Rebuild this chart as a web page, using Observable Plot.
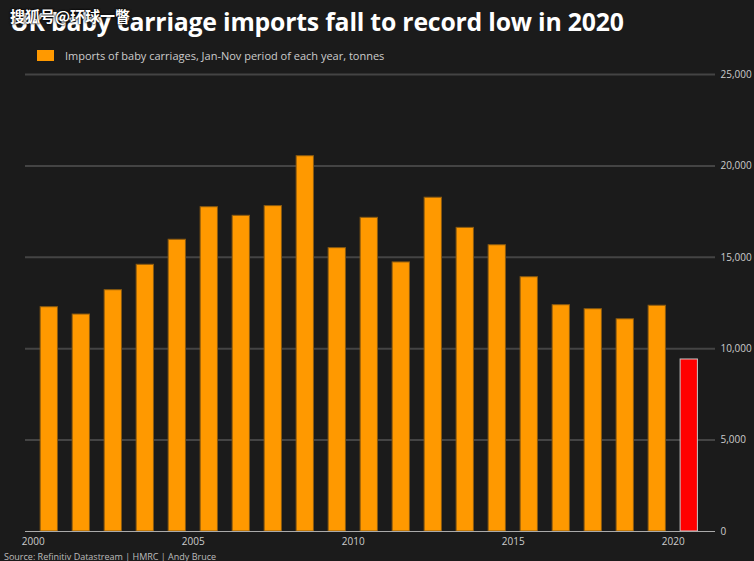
<!DOCTYPE html>
<html><head><meta charset="utf-8">
<script src="https://cdn.jsdelivr.net/npm/d3@7"></script>
<script src="https://cdn.jsdelivr.net/npm/@observablehq/plot@0.6"></script>
<style>
html,body{margin:0;padding:0;background:#1b1b1b;}
#wrap{position:relative;width:754px;height:561px;overflow:hidden;background:#1b1b1b;font-family:"Open Sans",sans-serif;}
#title{position:absolute;left:10px;top:4px;color:#fff;font-weight:700;font-size:24.8px;white-space:nowrap;letter-spacing:-0.2px;}
#wm{position:absolute;left:10px;top:5px;color:#fff;font-family:"Noto Sans CJK SC",sans-serif;font-size:15px;font-weight:700;text-shadow:0 0 2px #000,0 0 2px #000;white-space:nowrap;}
#legend{position:absolute;left:37px;top:48px;color:#ccc;font-size:11px;display:flex;align-items:center;white-space:nowrap;}
#legend .sw{width:17px;height:11px;background:#ff9900;margin-right:11px;}
#chart{position:absolute;left:0;top:64px;}
#source{position:absolute;left:4px;top:550px;color:#bbb;font-size:9px;white-space:nowrap;}
</style></head>
<body>
<div id="wrap">
  <div id="title">UK baby carriage imports fall to record low in 2020</div>
  <div id="wm">搜狐号@环球一瞥</div>
  <div id="legend"><div class="sw"></div><span>Imports of baby carriages, Jan-Nov period of each year, tonnes</span></div>
  <div id="chart"></div>
  <div id="source">Source: Refinitiv Datastream | HMRC | Andy Bruce</div>
</div>
<script>
const years = [2000,2001,2002,2003,2004,2005,2006,2007,2008,2009,2010,2011,2012,2013,2014,2015,2016,2017,2018,2019,2020];
const tonnes = [12270,11870,13200,14590,15960,17740,17270,17800,20530,15500,17160,14720,18260,16610,15660,13910,12380,12160,11610,12350,9410];
const yTicks = [0,5000,10000,15000,20000,25000];
const xTicks = [2000,2005,2010,2015,2020];

const data = years.map((y,i)=>({year:y, value:tonnes[i], latest: y===2020}));

const chart = Plot.plot({
  width: 754,
  height: 485,
  marginLeft: 25,
  marginRight: 39,
  marginTop: 10,
  marginBottom: 18,
  style: {background:"transparent", color:"#ccc", fontFamily:"Open Sans, sans-serif", fontSize:"10px"},
  x: {type:"linear", domain:[1999.756, 2021.32], ticks: xTicks, tickFormat: d=>String(d), tickSize:0, tickPadding:5, label:null},
  y: {domain:[0,25000], ticks: yTicks, tickFormat: d3.format(","), label:null},
  marks: [
    Plot.ruleY(yTicks.filter(d=>d>0), {stroke:"#444", strokeWidth:2}),
    Plot.rectY(data.filter(d=>!d.latest), {x1:d=>d.year+0.23, x2:d=>d.year+0.77, y:"value", fill:"#ff9900", stroke:"#8a5a10", strokeWidth:1}),
    Plot.rectY(data.filter(d=>d.latest), {x1:d=>d.year+0.23, x2:d=>d.year+0.77, y:"value", fill:"#ff0000", stroke:"#c8c8c8", strokeWidth:1}),
    Plot.ruleY([0], {stroke:"#aaa", strokeWidth:1.2}),
    Plot.axisY({anchor:"right", ticks:yTicks, tickFormat:d3.format(","), tickSize:0, tickPadding:5, label:null, fill:"#ccc"}),
    Plot.axisX({ticks:xTicks, tickFormat:d=>String(d), tickSize:0, tickPadding:6, label:null, fill:"#ccc"})
  ]
});
document.getElementById("chart").appendChild(chart);
</script>
</body></html>
